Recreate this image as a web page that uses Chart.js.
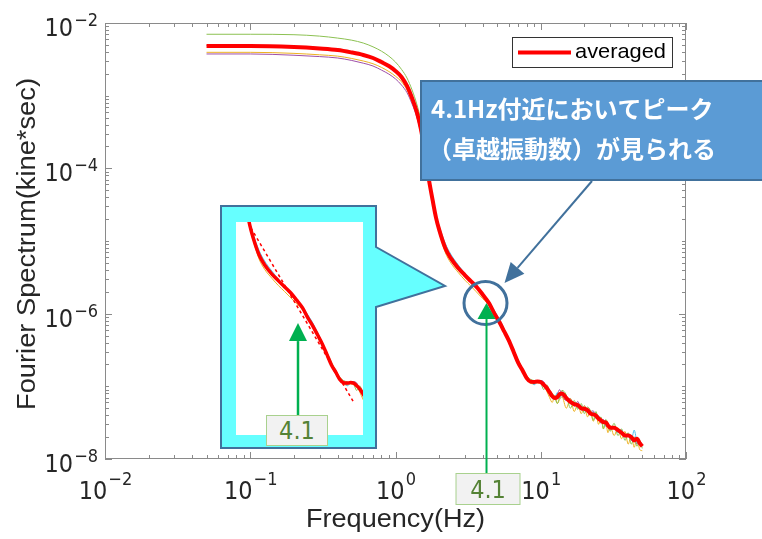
<!DOCTYPE html>
<html><head><meta charset="utf-8">
<script src="https://cdn.jsdelivr.net/npm/chart.js@4"></script>
<style>
html,body{margin:0;padding:0;background:#fff;}
#wrap{position:relative;width:762px;height:539px;overflow:hidden;background:#fff;}
#main{position:absolute;left:0;top:0;}
#inset{position:absolute;left:236px;top:222px;background:#fff;}
#lbl{position:absolute;left:266px;top:415px;width:60px;height:29px;background:#F2F2F2;border:1px solid #A9D18E;color:#548235;font:25px "Liberation Sans Narrow","DejaVu Sans Condensed",sans-serif;text-align:center;line-height:30px;}
</style></head><body>
<div id="wrap">
<canvas id="main" width="762" height="539"></canvas>
<canvas id="inset" width="127" height="213"></canvas>
<div id="lbl">4.1</div>
</div>
<script>
// ---------- data ----------
const freqHz = [0.05,0.1,0.2,0.3,0.4,0.5,0.6,0.7,0.8,0.9,1.0,
  1.1,1.2,1.3,1.4,1.5,1.6,1.7,1.8,1.9,2.0,
  2.2,2.4,2.7,3.0,3.3,3.6,4.0,4.4,4.8,5.2,5.6,6.0,6.5,7.0,7.5,8.0,8.5,9.0,9.5,10,
  10.5,11,11.5,12,12.5,13,13.5,14,
  15,16,17,18,19,20,21,22,23,24,25,26,27,28,29,30,
  32,34,36,38,40,42,44,46,48,50];

const averaged = [4.83e-3,4.83e-3,4.67e-3,4.46e-3,4.25e-3,3.93e-3,3.63e-3,3.3e-3,2.9e-3,2.56e-3,2.19e-3,
  1.81e-3,1.36e-3,9.3e-4,6.0e-4,3.37e-4,1.53e-4,6.9e-5,3.67e-5,2.1e-5,1.42e-5,
  8.0e-6,5.8e-6,4.25e-6,3.4e-6,2.8e-6,2.35e-6,1.81e-6,1.40e-6,1.0e-6,7.6e-7,5.7e-7,4.35e-7,3.0e-7,2.1e-7,1.65e-7,1.3e-7,1.16e-7,1.15e-7,1.17e-7,1.15e-7,
  1.05e-7,9.5e-8,8.3e-8,7.3e-8,6.9e-8,7.1e-8,7.8e-8,8.0e-8,
  6.9e-8,6.1e-8,5.7e-8,5.5e-8,5.0e-8,4.9e-8,4.7e-8,4.2e-8,4.1e-8,3.95e-8,3.6e-8,3.4e-8,3.2e-8,3.2e-8,2.9e-8,2.7e-8,
  2.7e-8,2.5e-8,2.3e-8,2.1e-8,2.1e-8,2.0e-8,1.8e-8,1.9e-8,1.65e-8,1.5e-8];

const recordGreen = [7.0e-3,7.0e-3,6.9e-3,6.6e-3,6.2e-3,5.8e-3,5.3e-3,4.7e-3,4.1e-3,3.5e-3,2.9e-3,
  2.3e-3,1.75e-3,1.2e-3,7.7e-4,4.4e-4,1.9e-4,8.1e-5,3.9e-5,2.2e-5,1.45e-5,
  8.3e-6,5.9e-6,4.3e-6,3.5e-6,2.85e-6,2.4e-6,1.85e-6,1.42e-6,1.05e-6,8.0e-7,6.0e-7,4.5e-7,3.2e-7,2.3e-7,1.75e-7,1.4e-7,1.25e-7,1.2e-7,1.15e-7,1.1e-7,
  9.0e-8,1.05e-7,8.8e-8,8.0e-8,7.0e-8,5.8e-8,7.2e-8,8.8e-8,
  7.6e-8,5.0e-8,6.4e-8,4.8e-8,5.8e-8,4.2e-8,5.2e-8,4.6e-8,3.4e-8,4.5e-8,3.4e-8,3.8e-8,2.6e-8,3.5e-8,3.1e-8,2.4e-8,
  3.1e-8,2.1e-8,2.6e-8,1.8e-8,2.3e-8,1.6e-8,2.0e-8,1.5e-8,1.8e-8,1.4e-8];

const recordPurple = [3.75e-3,3.75e-3,3.6e-3,3.45e-3,3.3e-3,3.05e-3,2.8e-3,2.56e-3,2.25e-3,1.98e-3,1.7e-3,
  1.4e-3,1.1e-3,7.7e-4,5.1e-4,2.9e-4,1.4e-4,6.5e-5,3.6e-5,2.05e-5,1.4e-5,
  7.9e-6,5.7e-6,4.2e-6,3.35e-6,2.75e-6,2.3e-6,1.78e-6,1.38e-6,1.0e-6,7.5e-7,5.6e-7,4.2e-7,2.9e-7,2.0e-7,1.55e-7,1.25e-7,1.12e-7,1.1e-7,1.2e-7,1.2e-7,
  1.15e-7,9.2e-8,7.8e-8,6.8e-8,6.6e-8,7.8e-8,9.0e-8,7.4e-8,
  6.4e-8,6.8e-8,5.3e-8,6.2e-8,4.7e-8,5.4e-8,4.4e-8,4.5e-8,4.6e-8,3.6e-8,3.9e-8,3.1e-8,3.5e-8,2.9e-8,3.0e-8,2.6e-8,
  2.8e-8,2.4e-8,2.4e-8,2.0e-8,2.2e-8,1.8e-8,2.0e-8,1.6e-8,1.75e-8,1.5e-8];

const recordOrange = [3.95e-3,3.95e-3,3.82e-3,3.65e-3,3.5e-3,3.25e-3,3.0e-3,2.75e-3,2.45e-3,2.15e-3,1.85e-3,
  1.55e-3,1.2e-3,8.3e-4,5.4e-4,3.0e-4,1.4e-4,6.3e-5,3.3e-5,1.9e-5,1.3e-5,
  7.0e-6,5.0e-6,3.7e-6,2.9e-6,2.4e-6,2.0e-6,1.6e-6,1.3e-6,9.6e-7,7.3e-7,5.5e-7,4.1e-7,2.9e-7,2.05e-7,1.6e-7,1.25e-7,1.1e-7,1.08e-7,1.12e-7,1.1e-7,
  1.1e-7,8.6e-8,7.0e-8,6.0e-8,7.6e-8,5.8e-8,6.6e-8,7.2e-8,
  5.0e-8,6.8e-8,4.5e-8,5.8e-8,4.2e-8,5.4e-8,3.8e-8,4.6e-8,3.3e-8,4.2e-8,3.0e-8,3.6e-8,2.6e-8,3.2e-8,2.3e-8,2.9e-8,
  2.1e-8,2.7e-8,1.9e-8,2.4e-8,1.6e-8,2.1e-8,1.45e-8,2.0e-8,1.35e-8,1.3e-8];

const recordBlue = [4.9e-3,4.9e-3,4.75e-3,4.55e-3,4.3e-3,4.0e-3,3.7e-3,3.35e-3,2.95e-3,2.6e-3,2.2e-3,
  1.83e-3,1.38e-3,9.5e-4,6.1e-4,3.4e-4,1.55e-4,7.2e-5,3.9e-5,2.3e-5,1.6e-5,
  9.3e-6,6.6e-6,4.7e-6,3.6e-6,2.9e-6,2.45e-6,1.9e-6,1.45e-6,1.1e-6,8.4e-7,6.2e-7,4.6e-7,3.1e-7,2.15e-7,1.65e-7,1.3e-7,1.2e-7,1.05e-7,1.15e-7,1.2e-7,
  1.1e-7,9.6e-8,8.8e-8,7.4e-8,7.0e-8,8.2e-8,6.8e-8,8.4e-8,
  7.2e-8,6.0e-8,6.0e-8,5.0e-8,5.4e-8,4.6e-8,4.8e-8,4.1e-8,4.4e-8,3.7e-8,3.9e-8,3.2e-8,3.4e-8,2.8e-8,3.1e-8,2.6e-8,
  2.8e-8,2.3e-8,2.5e-8,2.0e-8,2.2e-8,1.8e-8,2.5e-8,1.7e-8,1.6e-8,1.6e-8];

// reference (tangent) line shown in the zoomed inset
const tangentFreq = [1.93, 9.89];
const tangentLevel = [1.96e-5, 6.34e-8];

const xTickExponents = [-2,-1,0,1,2];
const yTickExponents = [-8,-6,-4,-2];
const peakFreq = 4.1;
const peakLevel = 1.4e-6;
const insetArrowTipLevel = 8.4e-7;
const legendLabel = 'averaged';
const xTitle = 'Frequency(Hz)';
const yTitle = 'Fourier Spectrum(kine*sec)';
const calloutLines = ['4.1Hz付近においてピーク', '（卓越振動数）が見られる'];

// ---------- styles ----------
const NARROW = '"Liberation Sans Narrow","DejaVu Sans Condensed",sans-serif';
const SANS = '"Liberation Sans",Arial,sans-serif';
const series = [
  {label: legendLabel, values: averaged, color:'#FF0000', main:4, inset:3.5, order:0},
  {label:'rec-green', values: recordGreen, color:'#8CC152', main:1, inset:1, order:1},
  {label:'rec-blue', values: recordBlue, color:'#4DBEEE', main:1, inset:1, order:2},
  {label:'rec-orange', values: recordOrange, color:'#EDB120', main:1, inset:1, order:3},
  {label:'rec-purple', values: recordPurple, color:'#9E4FA8', main:1, inset:1, order:4}
];

function makeDatasets(which){
  return series.map(s => ({
    label: s.label,
    data: freqHz.map((f,i)=>({x:f, y:s.values[i]})),
    borderColor: s.color,
    borderWidth: s[which],
    pointRadius: 0,
    fill: false,
    cubicInterpolationMode: 'monotone',
    order: s.order
  }));
}

function fitText(ctx, txt, x, y, w){
  const m = ctx.measureText(txt).width;
  ctx.save(); ctx.translate(x, y); ctx.scale(w/m, 1);
  ctx.textAlign = 'left'; ctx.fillText(txt, -m/2, 0); ctx.restore();
}
function arrow(ctx,x1,y1,x2,y2,color,lw,headLen,headHalf){
  const a = Math.atan2(y2-y1, x2-x1);
  const bx = x2-headLen*Math.cos(a), by = y2-headLen*Math.sin(a);
  ctx.strokeStyle = color; ctx.lineWidth = lw;
  ctx.beginPath(); ctx.moveTo(x1,y1); ctx.lineTo(bx,by); ctx.stroke();
  ctx.fillStyle = color; ctx.beginPath(); ctx.moveTo(x2,y2);
  ctx.lineTo(bx+headHalf*Math.sin(a), by-headHalf*Math.cos(a));
  ctx.lineTo(bx-headHalf*Math.sin(a), by+headHalf*Math.cos(a));
  ctx.closePath(); ctx.fill();
}

const mainDeco = {
  id: 'mainDeco',
  afterDraw(chart){
    const ctx = chart.ctx, xs = chart.scales.x, ys = chart.scales.y, ca = chart.chartArea;
    ctx.save();
    // axes box + inside ticks
    ctx.strokeStyle = '#8A8A8A'; ctx.lineWidth = 1;
    ctx.strokeRect(ca.left+0.5, ca.top+0.5, ca.right-ca.left-1, ca.bottom-ca.top-1);
    ctx.beginPath();
    for (let e=-2; e<=2; e++){
      for (let m=1; m<=9; m++){
        const v = m*Math.pow(10,e);
        if (v>100.0001) break;
        const px = Math.round(xs.getPixelForValue(v))+0.5;
        const len = m===1 ? 7 : 4;
        ctx.moveTo(px, ca.bottom); ctx.lineTo(px, ca.bottom-len);
        ctx.moveTo(px, ca.top); ctx.lineTo(px, ca.top+len);
      }
    }
    for (let e=-8; e<=-2; e++){
      for (let m=1; m<=9; m++){
        const v = m*Math.pow(10,e);
        if (v>1e-2*1.0001) break;
        const py = Math.round(ys.getPixelForValue(v))+0.5;
        const len = (m===1 && yTickExponents.includes(e)) ? 7 : 4;
        ctx.moveTo(ca.left, py); ctx.lineTo(ca.left+len, py);
        ctx.moveTo(ca.right, py); ctx.lineTo(ca.right-len, py);
      }
    }
    ctx.stroke();

    // tick labels 10^n
    ctx.fillStyle = '#262626'; ctx.textBaseline = 'alphabetic';
    const baseFont = '25px '+NARROW, expFont = '18px '+NARROW;
    xTickExponents.forEach(e=>{
      const px = xs.getPixelForValue(Math.pow(10,e));
      const es = (e<0?'\u2212':'')+Math.abs(e);
      ctx.font = baseFont; const wb = ctx.measureText('10').width;
      ctx.font = expFont; const we = ctx.measureText(es).width;
      const x0 = px - (wb+we)/2;
      ctx.font = baseFont; ctx.textAlign='left'; ctx.fillText('10', x0, 499);
      ctx.font = expFont; ctx.fillText(es, x0+wb+1, 485);
    });
    yTickExponents.forEach(e=>{
      const py = ys.getPixelForValue(Math.pow(10,e));
      const es = (e<0?'\u2212':'')+Math.abs(e);
      ctx.font = baseFont; const wb = ctx.measureText('10').width;
      ctx.font = expFont; const we = ctx.measureText(es).width;
      const xr = ca.left - 7;
      ctx.font = expFont; ctx.textAlign='left'; ctx.fillText(es, xr-we, py+3);
      ctx.font = baseFont; ctx.fillText('10', xr-we-wb-1, py+13);
    });

    // axis titles
    ctx.font = '25px '+SANS; ctx.fillStyle = '#262626';
    fitText(ctx, xTitle, (ca.left+ca.right)/2, 527, 179);
    ctx.save(); ctx.translate(35, 244); ctx.rotate(-Math.PI/2);
    fitText(ctx, yTitle, 0, 0, 332); ctx.restore();

    // legend
    ctx.fillStyle = '#fff'; ctx.fillRect(512.5, 37.5, 160, 30);
    ctx.strokeStyle = '#333'; ctx.lineWidth = 1; ctx.strokeRect(512.5, 37.5, 160, 30);
    ctx.strokeStyle = '#FF0000'; ctx.lineWidth = 4;
    ctx.beginPath(); ctx.moveTo(518, 52.5); ctx.lineTo(571, 52.5); ctx.stroke();
    ctx.fillStyle = '#000'; ctx.font = '21px '+SANS; ctx.textBaseline='middle';
    fitText(ctx, legendLabel, 575+45.5, 52, 91);
    ctx.textBaseline = 'alphabetic';

    // inset frame with pointer
    ctx.beginPath();
    ctx.moveTo(221,206); ctx.lineTo(376,206); ctx.lineTo(376,247); ctx.lineTo(445,286);
    ctx.lineTo(376,307); ctx.lineTo(376,448); ctx.lineTo(221,448); ctx.closePath();
    ctx.fillStyle = '#66FFFF'; ctx.fill();
    ctx.strokeStyle = '#41719C'; ctx.lineWidth = 2; ctx.stroke();

    // circle at the peak
    const cx = xs.getPixelForValue(peakFreq), cy = ys.getPixelForValue(peakLevel);
    ctx.beginPath(); ctx.arc(cx+1, cy, 21.5, 0, Math.PI*2);
    ctx.strokeStyle = '#41719C'; ctx.lineWidth = 3; ctx.stroke();

    // callout
    ctx.fillStyle = '#5B9BD5'; ctx.fillRect(421, 81, 360, 99);
    ctx.strokeStyle = '#41719C'; ctx.lineWidth = 2; ctx.strokeRect(421, 81, 360, 99);
    ctx.fillStyle = '#FFFFFF'; ctx.font = 'bold 24px "Noto Sans CJK JP",sans-serif'; ctx.textAlign='left';
    ctx.fillText(calloutLines[0], 431, 118);
    ctx.fillText(calloutLines[1], 428, 158);

    // blue arrow from callout to circle
    arrow(ctx, 592, 181, cx+20, cy-20, '#41719C', 2, 20, 9);

    // green arrow + label
    arrow(ctx, cx+2, 474, cx+2, cy, '#00B050', 2, 16, 9);
    ctx.fillStyle = '#F2F2F2'; ctx.fillRect(cx-28.5, 473.5, 64, 31);
    ctx.strokeStyle = '#A9D18E'; ctx.lineWidth = 1; ctx.strokeRect(cx-28.5, 473.5, 64, 31);
    ctx.fillStyle = '#548235'; ctx.font = '25px '+NARROW; ctx.textAlign='center';
    ctx.fillText('4.1', cx+3.5, 498);
    ctx.restore();
  }
};

new Chart(document.getElementById('main'), {
  type: 'line',
  data: {datasets: makeDatasets('main')},
  options: {
    responsive:false, animation:false, devicePixelRatio:1,
    layout:{padding:{left:105, top:23, right:76, bottom:80}},
    plugins:{legend:{display:false}, tooltip:{enabled:false}},
    scales:{
      x:{type:'logarithmic', min:0.01, max:100, display:false},
      y:{type:'logarithmic', min:1e-8, max:1e-2, display:false}
    }
  },
  plugins:[mainDeco]
});

const insetDeco = {
  id:'insetDeco',
  afterDraw(chart){
    const ctx = chart.ctx, xs = chart.scales.x, ys = chart.scales.y, ca = chart.chartArea;
    const ax = xs.getPixelForValue(peakFreq);
    arrow(ctx, ax, ca.bottom, ax, ys.getPixelForValue(insetArrowTipLevel), '#00B050', 2.5, 18, 9);
  }
};

const insetSets = makeDatasets('inset');
insetSets.push({
  label:'tangent',
  data: tangentFreq.map((f,i)=>({x:f, y:tangentLevel[i]})),
  borderColor:'#FF0000', borderWidth:1.5, borderDash:[3,3], pointRadius:0, fill:false, order:-1
});
new Chart(document.getElementById('inset'), {
  type:'line',
  data:{datasets: insetSets},
  options:{
    responsive:false, animation:false, devicePixelRatio:1,
    layout:{padding:0},
    plugins:{legend:{display:false}, tooltip:{enabled:false}},
    scales:{
      x:{type:'logarithmic', min:1.52, max:11.6, display:false},
      y:{type:'logarithmic', min:2.06e-8, max:2.39e-5, display:false}
    }
  },
  plugins:[insetDeco]
});
</script>
</body></html>
